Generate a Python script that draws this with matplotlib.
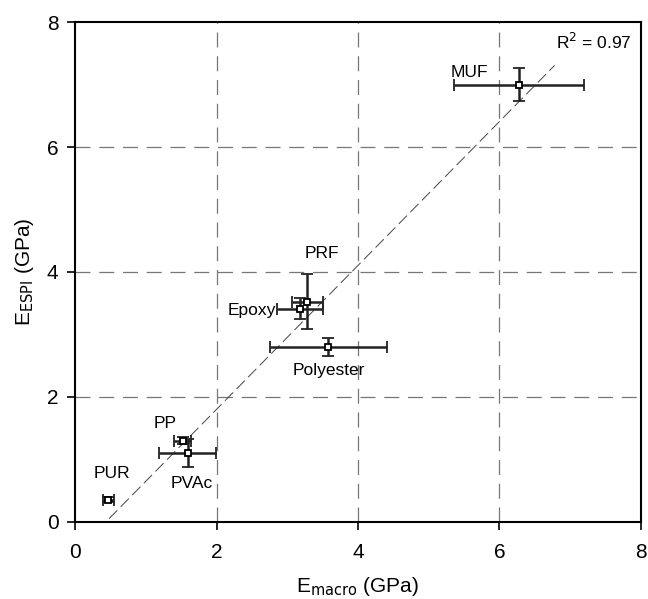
import numpy as np
import matplotlib.pyplot as plt

# adhesive data: E_macro vs E_ESPI (GPa) with error bars
names = ["MUF", "PRF", "Epoxy", "Polyester", "PP", "PVAc", "PUR"]
e_macro = [6.28, 3.28, 3.18, 3.58, 1.52, 1.59, 0.47]
e_macro_err = [0.92, 0.22, 0.32, 0.83, 0.12, 0.40, 0.08]
e_espi = [7.0, 3.52, 3.41, 2.80, 1.30, 1.10, 0.35]
e_espi_err = [0.27, 0.44, 0.17, 0.15, 0.05, 0.22, 0.04]

label_x = [5.58, 3.49, 2.84, 3.58, 1.27, 1.65, 0.52]
label_y = [7.2, 4.3, 3.39, 2.42, 1.58, 0.62, 0.78]
label_ha = ["center", "center", "right", "center", "center", "center", "center"]

fit_x = [0.48, 6.78]
fit_slope = 1.152
fit_icpt = -0.503


def main():
    plt.rcParams["font.family"] = ["Liberation Sans", "DejaVu Sans"]
    fig = plt.figure(figsize=(6.48, 5.99), dpi=100)
    ax = fig.add_axes([0.116, 0.129, 0.873, 0.834])

    for g in [2, 4, 6]:
        ax.axvline(g, color="#777777", lw=0.9, dashes=(12, 7), zorder=0)
        ax.axhline(g, color="#777777", lw=0.9, dashes=(12, 7), zorder=0)

    fx = np.array(fit_x)
    ax.plot(fx, fit_slope * fx + fit_icpt, color="#444444", lw=0.7,
            dashes=(12, 5), zorder=1)

    ax.errorbar(e_macro, e_espi, xerr=e_macro_err, yerr=e_espi_err,
                fmt="s", ms=5, mfc="white", mec="black", mew=1.3,
                ecolor="#222222", elinewidth=1.8, capsize=4, capthick=1.8,
                zorder=3)

    for n, x, y, ha in zip(names, label_x, label_y, label_ha):
        ax.text(x, y, n, ha=ha, va="center", fontsize=12.5)

    ax.text(7.87, 7.68, r"R$^2$ = 0.97", ha="right", va="center", fontsize=12.5)

    ax.set_xlim(0, 8)
    ax.set_ylim(0, 8)
    ax.set_xticks([0, 2, 4, 6, 8])
    ax.set_yticks([0, 2, 4, 6, 8])
    ax.tick_params(labelsize=15, direction="out", length=6, width=1.2)
    ax.tick_params(axis="x", pad=9)
    ax.tick_params(axis="y", pad=6)
    for s in ax.spines.values():
        s.set_linewidth(1.5)
    ax.set_xlabel(r"E$_{\mathrm{macro}}$ (GPa)", fontsize=15, labelpad=10)
    ax.set_ylabel(r"E$_{\mathrm{ESPI}}$ (GPa)", fontsize=15, labelpad=8)

    fig.savefig("out.png", dpi=100)


if __name__ == "__main__":
    main()
